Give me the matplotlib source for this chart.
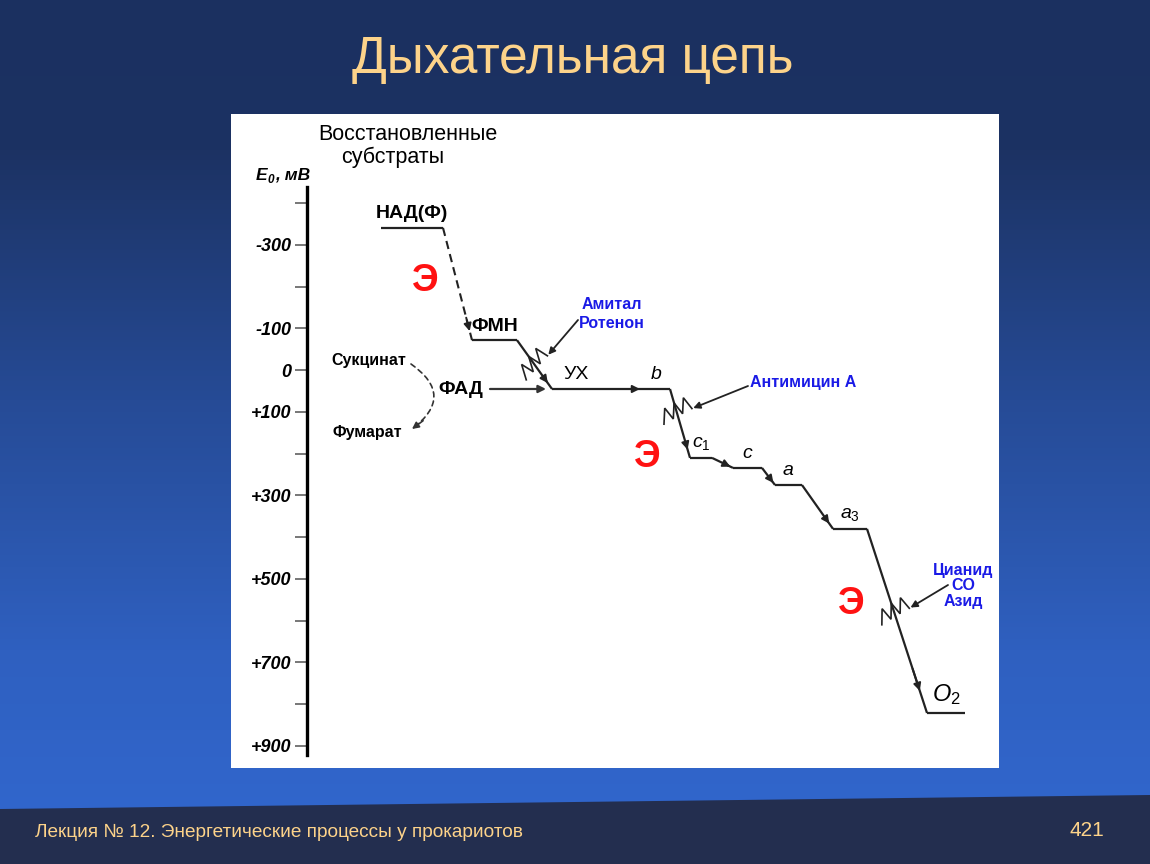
import numpy as np
import matplotlib.pyplot as plt
from matplotlib.patches import Polygon, FancyArrowPatch

plt.rcParams['font.family'] = ['Liberation Sans', 'DejaVu Sans']
plt.rcParams['mathtext.fontset'] = 'custom'
plt.rcParams['mathtext.rm'] = 'Liberation Sans'
plt.rcParams['mathtext.it'] = 'Liberation Sans:italic'
plt.rcParams['mathtext.bf'] = 'Liberation Sans:bold'

# переносчики дыхательной цепи и их E0 (мВ)
carriers = ['НАД(Ф)', 'ФМН', 'УХ', 'b', 'c1', 'c', 'a', 'a3', 'O2']
carrier_labels = ['НАД(Ф)', 'ФМН', 'УХ', r'$b$', r'$c_{\mathit{1}}$', r'$c$',
                  r'$a$', r'$a_{\mathit{3}}$', r'$O_2$']
e0 = [-341, -72, 45, 45, 210, 234, 275, 380, 821]

# горизонтальная раскладка уровней (условные единицы)
x_start = [381, 472, 552, 643, 690, 733, 775, 833, 927]
x_end = [443, 517, 600, 670, 712, 762, 802, 867, 965]

# переходы между соседними переносчиками
trans_style = ['dash', 'block', 'plain', 'block', 'plain', 'plain', 'plain', 'block']
block_frac = {1: 0.45, 3: 0.30, 7: 0.44}

# ингибиторы: текст и номер блокируемого перехода
inhibitors = ['Амитал\nРотенон', 'Антимицин А', 'Цианид\nCO\nАзид']
inhibitor_step = [1, 3, 7]

# ось E0
major_ticks = [-300, -100, 0, 100, 300, 500, 700, 900]
major_labels = ['-300', '-100', '0', '+100', '+300', '+500', '+700', '+900']
minor_ticks = [-400, -200, 200, 400, 600, 800]

W, H = 1150, 864
fig = plt.figure(figsize=(W / 100, H / 100), dpi=100)

# фон слайда
bg = fig.add_axes([0, 0, 1, 1])
bg.set_xlim(0, W)
bg.set_ylim(H, 0)
bg.axis('off')
stops = [0, 150, 400, 650, 810, 864]
cols = np.array([[27, 48, 96], [28, 50, 99], [38, 75, 150], [47, 96, 192],
                 [49, 102, 204], [49, 102, 204]]) / 255
yy = np.arange(H)
grad = np.stack([np.interp(yy, stops, cols[:, k]) for k in range(3)], axis=-1)
bg.imshow(grad[:, None, :], extent=[0, W, H, 0], aspect='auto', zorder=0)
bg.add_patch(Polygon([(0, 809), (W, 795), (W, H), (0, H)], closed=True,
                     facecolor='#232e4f', edgecolor='none', zorder=1))
bg.text(573, 60, 'Дыхательная цепь', fontsize=37, color='#fdd38a',
        ha='center', va='center', zorder=2)
bg.text(35, 832, 'Лекция № 12. Энергетические процессы у прокариотов',
        fontsize=13.7, color='#fdd38a', ha='left', va='center', zorder=2)
bg.text(1104, 830, '421', fontsize=15, color='#fdd38a', ha='right',
        va='center', zorder=2)

# белая панель со схемой
px0, py0, px1, py1 = 231, 114, 999, 768
ax = fig.add_axes([px0 / W, 1 - py1 / H, (px1 - px0) / W, (py1 - py0) / H])
ax.set_zorder(1)
ax.set_facecolor('white')
ax.set_xlim(px0, px1)
k_mv = 0.4175
ax.set_ylim((py1 - 370.2) / k_mv, (py0 - 370.2) / k_mv)
for s in ['top', 'right', 'bottom']:
    ax.spines[s].set_visible(False)
ax.spines['left'].set_position(('data', 307))
ax.spines['left'].set_bounds(-439, 921)
ax.spines['left'].set_linewidth(2.4)
ax.set_xticks([])
ax.set_yticks(major_ticks)
ax.set_yticklabels(major_labels, fontsize=13, fontweight='bold', fontstyle='italic')
ax.set_yticks(minor_ticks, minor=True)
ax.tick_params(axis='y', which='both', direction='out', length=9, width=1.4,
               color='#777777', pad=2)

line_kw = dict(color='#222222', lw=1.6, solid_capstyle='butt')

# уровни переносчиков
for lab, e, xs, xe in zip(carrier_labels, e0, x_start, x_end):
    ax.plot([xs, xe], [e, e], **line_kw)
    size = 17 if lab.startswith(r'$O') else 14
    weight = 'bold' if lab in ('НАД(Ф)', 'ФМН') else 'normal'
    ax.annotate(lab, xy=((xs + xe) / 2, e), xytext=(0, 4),
                textcoords='offset points', ha='center', va='bottom',
                fontsize=size, fontweight=weight, color='black')


def head(p0, p1, frac=0.9, back=0.12):
    a = (p0[0] + (frac - back) * (p1[0] - p0[0]), p0[1] + (frac - back) * (p1[1] - p0[1]))
    b = (p0[0] + frac * (p1[0] - p0[0]), p0[1] + frac * (p1[1] - p0[1]))
    ax.annotate('', xy=b, xytext=a,
                arrowprops=dict(arrowstyle='-|>', color='#222222', lw=1.4,
                                mutation_scale=11, shrinkA=0, shrinkB=0))


def zigzag(p0, p1, frac, length=32, amp=7, n=6, turn=13):
    t = ax.transData
    d0 = np.array(t.transform(p0))
    d1 = np.array(t.transform(p1))
    d = (d1 - d0) / np.linalg.norm(d1 - d0)
    perp = np.array([-d[1], d[0]])
    if perp[0] < 0:
        perp = -perp
    r = np.radians(turn)
    perp = np.array([perp[0] * np.cos(r) - perp[1] * np.sin(r),
                     perp[0] * np.sin(r) + perp[1] * np.cos(r)])
    c = d0 + frac * (d1 - d0)
    pts = []
    for k in range(n + 1):
        s = -length / 2 + k * length / n
        off = amp * (-1) ** k
        pts.append(c + s * perp + off * d)
    pts = t.inverted().transform(np.array(pts))
    ax.plot(pts[:, 0], pts[:, 1], color='#222222', lw=1.2, solid_joinstyle='miter')
    return pts[-1]


block_ends = {}
for i, st in enumerate(trans_style):
    p0 = (x_end[i], e0[i])
    p1 = (x_start[i + 1], e0[i + 1])
    if st == 'dash':
        ax.plot([p0[0], p1[0]], [p0[1], p1[1]], color='#222222', lw=1.5,
                dashes=(4, 2.5))
        head(p0, p1, 0.92)
    else:
        ax.plot([p0[0], p1[0]], [p0[1], p1[1]], **line_kw)
        head(p0, p1, 0.93 if i == 2 else 0.88)
    if st == 'block':
        block_ends[i] = zigzag(p0, p1, block_frac[i])

# ФАД -> УХ
ax.annotate('', xy=(546, e0[2]), xytext=(490, e0[2]),
            arrowprops=dict(arrowstyle='-|>', color='#333333', lw=1.6,
                            mutation_scale=11, shrinkA=0, shrinkB=0))

# надписи поверх панели (координаты в пикселях слайда)
ov = fig.add_axes([0, 0, 1, 1])
ov.set_zorder(2)
ov.patch.set_alpha(0)
ov.set_xlim(0, W)
ov.set_ylim(H, 0)
ov.axis('off')

ov.text(408, 134, 'Восстановленные', fontsize=15.5, ha='center', va='center')
ov.text(393, 157, 'субстраты', fontsize=15.5, ha='center', va='center')
ov.text(261, 175, 'E', fontsize=12.5, fontweight='bold', fontstyle='italic',
        ha='center', va='center')
ov.text(270.5, 180, '0', fontsize=8.5, fontweight='bold', fontstyle='italic',
        ha='center', va='center')
ov.text(275, 175, ', мВ', fontsize=12.5, fontweight='bold', fontstyle='italic',
        ha='left', va='center')

ov.text(406, 361, 'Сукцинат', fontsize=11.5, fontweight='bold', ha='right', va='center')
ov.text(402, 432, 'Фумарат', fontsize=11.5, fontweight='bold', ha='right', va='center')
ov.text(461, 389, 'ФАД', fontsize=14, fontweight='bold', ha='center', va='center')

# сукцинат -> фумарат (пунктирная дуга)
a0, a1, rad = np.array([411.0, 364.0]), np.array([412.0, 429.0]), -0.69
ov.add_patch(FancyArrowPatch(tuple(a0), tuple(a1), connectionstyle=f'arc3,rad={rad}',
                             arrowstyle='-', linestyle=(0, (3, 2.5)), lw=1.2,
                             color='#333333', shrinkA=0, shrinkB=0))
dd0 = np.array([a0[0], H - a0[1]])
dd1 = np.array([a1[0], H - a1[1]])
mid = (dd0 + dd1) / 2
ctrl = mid + rad * np.array([dd1[1] - dd0[1], -(dd1[0] - dd0[0])])
tail = dd1 - 0.25 * (dd1 - ctrl)
ov.annotate('', xy=tuple(a1), xytext=(tail[0], H - tail[1]),
            arrowprops=dict(arrowstyle='-|>', color='#333333', lw=1.2,
                            mutation_scale=10, shrinkA=0, shrinkB=0))

# красные буквы Э
for ex, ey in [(425, 281), (647, 457), (851, 604)]:
    ov.text(ex, ey, 'Э', fontsize=27, fontweight='bold', color='#ff1212',
            ha='center', va='center')

# ингибиторы
inh_text_pos = [(612, 314), (803, 383), (963, 586)]
inh_tail = [(578, 320), (748, 386), (948, 585)]
inh_spacing = [1.3, 1.2, 1.05]
for txt, step, tp, tl, ls in zip(inhibitors, inhibitor_step, inh_text_pos,
                                 inh_tail, inh_spacing):
    ov.text(tp[0], tp[1], txt, fontsize=11.5, fontweight='bold', color='#1a1ae6',
            ha='center', va='center', linespacing=ls)
    ov.annotate('', xy=tuple(block_ends[step]), xycoords=ax.transData,
                xytext=tl, textcoords='data',
                arrowprops=dict(arrowstyle='-|>', color='#222222', lw=1.3,
                                mutation_scale=10, shrinkA=0, shrinkB=1))

fig.savefig('out.png', dpi=100)
